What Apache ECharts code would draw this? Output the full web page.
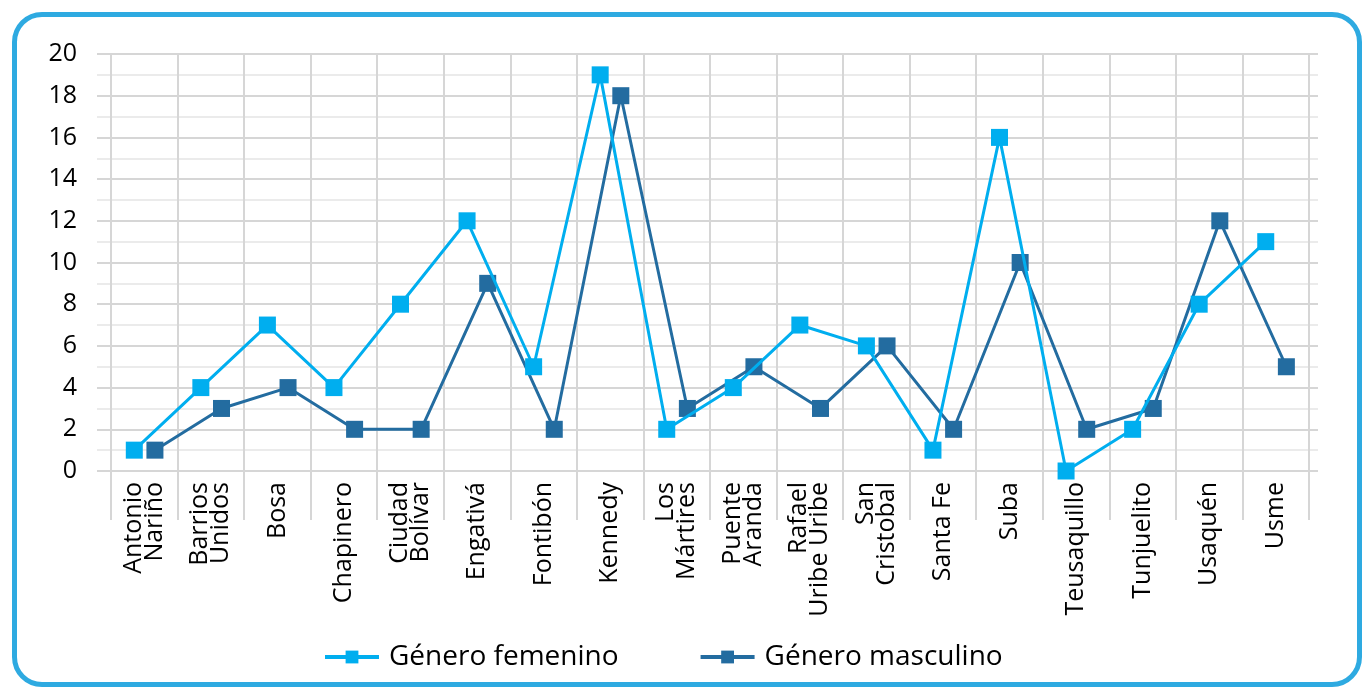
<!DOCTYPE html>
<html>
<head>
<meta charset="utf-8">
<script src="https://cdn.jsdelivr.net/npm/echarts@6/dist/echarts.min.js"></script>
<style>
html,body{margin:0;padding:0;background:#fff;}
#chart{width:1367px;height:688px;position:absolute;left:0;top:0;}
#frame{position:absolute;left:12px;top:12px;width:1350px;height:675px;box-sizing:border-box;border:5px solid #2eaae1;border-radius:30px;pointer-events:none;}
</style>
</head>
<body>
<div id="chart"></div>
<div id="frame"></div>
<script>
const categories = ["Antonio\nNariño","Barrios\nUnidos","Bosa","Chapinero","Ciudad\nBolívar","Engativá","Fontibón","Kennedy","Los\nMártires","Puente\nAranda","Rafael\nUribe Uribe","San\nCristobal","Santa Fe","Suba","Teusaquillo","Tunjuelito","Usaquén","Usme"];
const femenino = [1,4,7,4,8,12,5,19,2,4,7,6,1,16,0,2,8,11];
const masculino = [1,3,4,2,2,9,2,18,3,5,3,6,2,10,2,3,12,5];
const seriesNames = ["Género femenino","Género masculino"];
const yTicks = {min:0,max:20,interval:2};

const FONT = "'Open Sans', 'Noto Sans', sans-serif";
const OFF_F = -0.15, OFF_M = 0.16;
const toPts = (arr, off) => arr.map((v,i)=>[i+0.5+off, v]);

const chart = echarts.init(document.getElementById('chart'), null, {renderer:'canvas'});
chart.setOption({
  animation:false,
  backgroundColor:'#fff',
  grid:[
    {left:111, right:58, top:54, bottom:217},
    {left:97, right:49, top:54, bottom:217}
  ],
  legend:{
    left:318, top:638, itemGap:80, itemWidth:54, itemHeight:16,
    lineStyle:{width:4},
    textStyle:{fontFamily:FONT, fontSize:28, color:'#000', padding:[0,0,0,5]},
    data:seriesNames
  },
  xAxis:[
    {type:'category', gridIndex:0, data:categories, boundaryGap:true,
     axisLine:{show:false},
     axisTick:{show:true, length:49, interval:0, lineStyle:{color:'#d6d6d6', width:2}},
     splitLine:{show:true, interval:0, lineStyle:{color:'#d6d6d6', width:2}},
     axisLabel:{interval:0, rotate:90, margin:11, fontFamily:FONT, fontSize:25, lineHeight:21, color:'#000'}},
    {type:'value', gridIndex:0, min:0, max:categories.length, show:false},
    {type:'value', gridIndex:1, min:0, max:1, show:false}
  ],
  yAxis:[
    {type:'value', gridIndex:0, min:yTicks.min, max:yTicks.max, interval:yTicks.interval, show:false},
    {type:'value', gridIndex:1, min:yTicks.min, max:yTicks.max, interval:yTicks.interval,
     axisLine:{show:false}, axisTick:{show:false},
     axisLabel:{margin:20, fontFamily:FONT, fontSize:25, color:'#000'},
     splitLine:{show:true, lineStyle:{color:'#d6d6d6', width:2}},
     minorTick:{show:false, splitNumber:2},
     minorSplitLine:{show:true, lineStyle:{color:'#ebebeb', width:2}}}
  ],
  series:[
    {name:seriesNames[0], type:'line', xAxisIndex:1, yAxisIndex:0, data:toPts(femenino,OFF_F),
     symbol:'rect', symbolSize:17, color:'#00aeef', lineStyle:{width:3, color:'#00aeef'},
     itemStyle:{color:'#00aeef'}, z:3},
    {name:seriesNames[1], type:'line', xAxisIndex:1, yAxisIndex:0, data:toPts(masculino,OFF_M),
     symbol:'rect', symbolSize:17, color:'#236ca0', lineStyle:{width:3, color:'#236ca0'},
     itemStyle:{color:'#236ca0'}, z:2}
  ]
});
</script>
</body>
</html>
